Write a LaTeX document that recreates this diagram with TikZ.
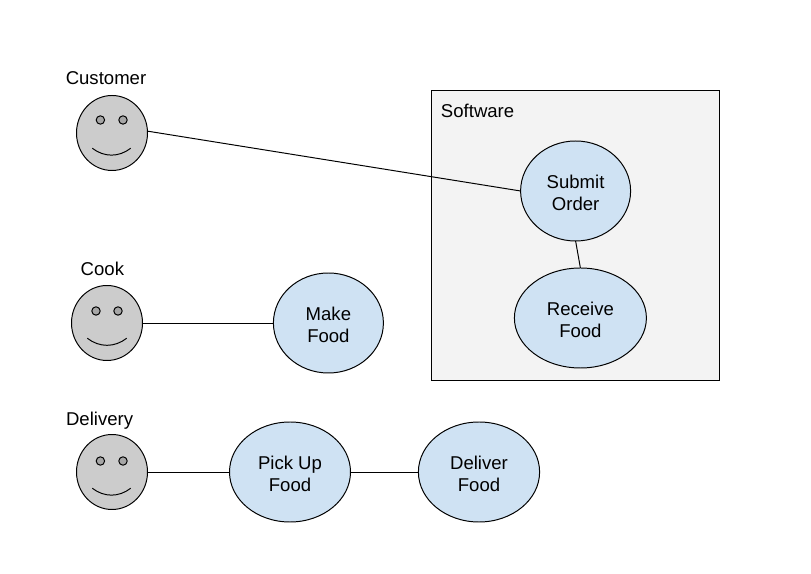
\documentclass[tikz,border=0pt]{standalone}
\usepackage{fontspec}
\setmainfont{Liberation Sans}
\usetikzlibrary{shapes.geometric}
\pgfdeclarelayer{bg}
\pgfsetlayers{bg,main}
\definecolor{usecasefill}{HTML}{CFE2F3}
\definecolor{facefill}{HTML}{CCCCCC}
\definecolor{eyefill}{HTML}{A6A6A6}
\definecolor{boxfill}{HTML}{F3F3F3}
\tikzset{empty/.style={draw=none, fill=none, minimum size=0mm, inner sep=0mm}}
\tikzset{txt/.style={draw=none, fill=none, inner sep=0mm, font=\fontsize{13.2}{15.6}\selectfont}}
\tikzset{usecase/.style={ellipse, draw, line width=0.7pt, fill=usecasefill, inner sep=0mm, outer sep=0mm, align=center, minimum height=2.5cm, font=\fontsize{13.2}{15.6}\selectfont, execute at begin node={\rule{0pt}{27.2pt}}}}
\tikzset{face/.style={ellipse, draw, line width=0.7pt, fill=facefill, inner sep=0mm, outer sep=0mm, minimum width=1.775cm, minimum height=1.875cm}}
\tikzset{eye/.style={circle, draw, line width=0.7pt, fill=eyefill, inner sep=0mm, minimum size=0.21cm}}

\begin{document}
\begin{tikzpicture}
    \useasboundingbox (0cm, 0cm) rectangle (20.275cm, 14.325cm);

    \node (customer) [face] at (2.8cm, 11.0cm) {};
    \node (cook) [face] at (2.675cm, 6.25cm) {};
    \node (delivery) [face] at (2.8cm, 2.525cm) {};

    \node (customerlabel) [txt] at (2.65cm, 12.375cm) {Customer};
    \node (cooklabel) [txt] at (2.56cm, 7.6cm) {Cook};
    \node (deliverylabel) [txt] at (2.49cm, 3.81cm) {Delivery};

    \node (eye1a) [eye] at (2.51cm, 11.325cm) {};
    \node (eye1b) [eye] at (3.075cm, 11.325cm) {};
    \node (eye2a) [eye] at (2.4cm, 6.55cm) {};
    \node (eye2b) [eye] at (2.95cm, 6.55cm) {};
    \node (eye3a) [eye] at (2.51cm, 2.8cm) {};
    \node (eye3b) [eye] at (3.075cm, 2.8cm) {};

    \node (smile1a) [empty] at (2.3cm, 10.625cm) {};
    \node (smile1b) [empty] at (3.275cm, 10.625cm) {};
    \node (smile2a) [empty] at (2.175cm, 5.875cm) {};
    \node (smile2b) [empty] at (3.175cm, 5.875cm) {};
    \node (smile3a) [empty] at (2.3cm, 2.125cm) {};
    \node (smile3b) [empty] at (3.275cm, 2.125cm) {};

    \draw[line width=0.7pt] (smile1a) edge [bend right=38] (smile1b);
    \draw[line width=0.7pt] (smile2a) edge [bend right=38] (smile2b);
    \draw[line width=0.7pt] (smile3a) edge [bend right=38] (smile3b);

    \node (submit) [usecase, minimum width=2.75cm] at (14.39cm, 9.55cm) {Submit\\Order};
    \node (receive) [usecase, minimum width=3.3cm] at (14.51cm, 6.375cm) {Receive\\Food};
    \node (make) [usecase, minimum width=2.75cm] at (8.21cm, 6.25cm) {Make\\Food};
    \node (pickup) [usecase, minimum width=3.025cm] at (7.25cm, 2.525cm) {Pick Up\\Food};
    \node (deliver) [usecase, minimum width=3.03cm] at (11.975cm, 2.525cm) {Deliver\\Food};

    \node (softwarelabel) [txt] at (11.94cm, 11.55cm) {Software};

    \begin{pgfonlayer}{bg}
        \node (software) [draw, line width=0.7pt, fill=boxfill, inner sep=0mm, outer sep=0mm, minimum width=7.185cm, minimum height=7.225cm] at (14.3825cm, 8.4375cm) {};

        \draw[line width=0.7pt] (customer.3) edge (submit.west);
        \draw[line width=0.7pt] (submit.south) edge (receive.north);
        \draw[line width=0.7pt] (cook) edge (make);
        \draw[line width=0.7pt] (delivery) edge (pickup);
        \draw[line width=0.7pt] (pickup) edge (deliver);
    \end{pgfonlayer}
\end{tikzpicture}
\end{document}
